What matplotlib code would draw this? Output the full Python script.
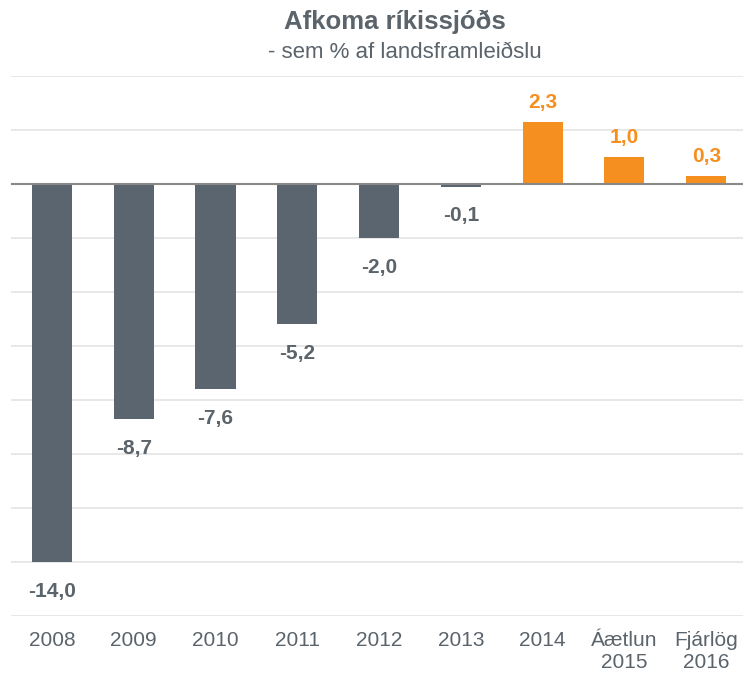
import matplotlib.pyplot as plt

plt.rcParams['font.family'] = ['Liberation Sans', 'DejaVu Sans']

# Data
categories = ["2008", "2009", "2010", "2011", "2012", "2013", "2014", "Áætlun\n2015", "Fjárlög\n2016"]
values = [-14.0, -8.7, -7.6, -5.2, -2.0, -0.1, 2.3, 1.0, 0.3]
labels = ["-14,0", "-8,7", "-7,6", "-5,2", "-2,0", "-0,1", "2,3", "1,0", "0,3"]

grey = "#5a6570"
orange = "#f58f1f"
text_col = "#5b636b"

fig = plt.figure(figsize=(7.43, 6.76), dpi=100)
ax = fig.add_axes([11 / 743, 60 / 676, 732 / 743, 540 / 676])

x = range(len(categories))
colors = [orange if v > 0 else grey for v in values]
ax.bar(x, values, width=0.49, color=colors, zorder=2)

# horizontal gridlines every 2 units
for g in range(-16, 5, 2):
    if g != 0:
        ax.axhline(g, color="#e6e6e6", lw=1.3, zorder=1)
ax.axhline(0, color="#888888", lw=1.5, zorder=3)

# value labels
for xi, v, lab, c in zip(x, values, labels, colors):
    off = 14 if v > 0 else -21
    ax.annotate(lab, (xi, v), xytext=(0, off), textcoords="offset points",
                ha="center", va="center", fontsize=15, fontweight="bold",
                color=c if v > 0 else text_col)

ax.set_xlim(-0.5, 8.45)
ax.set_ylim(-16, 4)
ax.set_xticks(list(x))
ax.set_xticklabels(categories, fontsize=15, color=text_col, linespacing=1.2)
ax.tick_params(axis="x", length=0, pad=11)
ax.set_yticks([])
for s in ax.spines.values():
    s.set_visible(False)

fig.text(395 / 743, 1 - 22 / 676, "Afkoma ríkissjóðs", ha="center", va="center",
         fontsize=18.5, fontweight="bold", color=text_col)
fig.text(405 / 743, 1 - 53 / 676, "- sem % af landsframleiðslu", ha="center", va="center",
         fontsize=16, color=text_col)

fig.savefig("out.png", dpi=100)
